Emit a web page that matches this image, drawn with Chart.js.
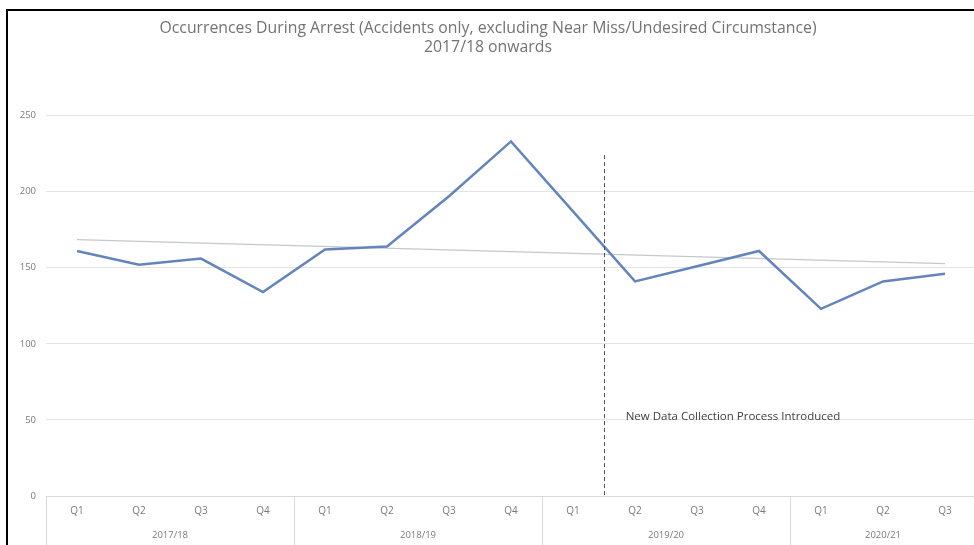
<!DOCTYPE html>
<html>
<head>
<meta charset="utf-8">
<script src="https://cdn.jsdelivr.net/npm/chart.js@4.4.1/dist/chart.umd.min.js"></script>
<style>
  html, body { margin: 0; padding: 0; background: #fff; overflow: hidden; }
  #wrap { position: relative; width: 976px; height: 545px; }
  #frame { position: absolute; left: 6px; top: 9px; right: 0; bottom: -10px;
           border-left: 2px solid #000; border-top: 2px solid #000; pointer-events: none; }
</style>
</head>
<body>
<div id="wrap">
  <canvas id="c" width="976" height="545"></canvas>
  <div id="frame"></div>
</div>
<script>
// Quarterly occurrences during arrest, grouped by financial year
const quarters = ['Q1','Q2','Q3','Q4','Q1','Q2','Q3','Q4','Q1','Q2','Q3','Q4','Q1','Q2','Q3'];
const years = ['2017/18','2018/19','2019/20','2020/21'];
const yearSizes = [4, 4, 4, 3];
const occurrences = [161, 152, 156, 134, 162, 164, 197, 233, 187, 141, 151, 161, 123, 141, 146];

// Linear trend line end values
const trendEnds = [168.5, 152.7];

// Process change marker (between 2019/20 Q1 and Q2)
const markerIndex = 8.5;
const markerTop = 224;
const markerText = 'New Data Collection Process Introduced';
const markerTextIndex = 8.85;
const markerTextValue = 52;

const yTicks = { min: 0, max: 250, step: 50 };

const trendData = quarters.map(() => null);
trendData[0] = trendEnds[0];
trendData[trendData.length - 1] = trendEnds[1];

const FONT = "'Open Sans', 'Noto Sans', sans-serif";

const groupAxis = {
  id: 'groupAxis',
  afterDraw(chart) {
    const ctx = chart.ctx;
    const x = chart.scales.x;
    const area = chart.chartArea;
    ctx.save();
    // separators between year groups
    ctx.strokeStyle = '#d9d9d9';
    ctx.lineWidth = 1;
    let start = 0;
    const bounds = [0];
    yearSizes.forEach(n => { start += n; bounds.push(start); });
    bounds.slice(0, -1).forEach(b => {
      const px = Math.round(x.getPixelForValue(b - 0.5)) + 0.5;
      ctx.beginPath();
      ctx.moveTo(px, area.bottom);
      ctx.lineTo(px, chart.height);
      ctx.stroke();
    });
    // year labels
    ctx.fillStyle = '#7a7a7a';
    ctx.font = '9.5px ' + FONT;
    ctx.textAlign = 'center';
    ctx.textBaseline = 'middle';
    years.forEach((yr, i) => {
      const a = x.getPixelForValue(bounds[i] - 0.5);
      const b = x.getPixelForValue(bounds[i + 1] - 0.5);
      ctx.fillText(yr, (a + b) / 2, 535);
    });
    ctx.restore();
  }
};

const marker = {
  id: 'marker',
  afterDatasetsDraw(chart) {
    const ctx = chart.ctx;
    const x = chart.scales.x, y = chart.scales.y;
    const px = Math.round(x.getPixelForValue(markerIndex)) + 0.5;
    ctx.save();
    ctx.strokeStyle = '#505050';
    ctx.lineWidth = 1;
    ctx.setLineDash([4, 3]);
    ctx.beginPath();
    ctx.moveTo(px, y.getPixelForValue(markerTop));
    ctx.lineTo(px, y.getPixelForValue(0));
    ctx.stroke();
    ctx.setLineDash([]);
    ctx.fillStyle = '#404040';
    ctx.font = '11.5px ' + FONT;
    ctx.textAlign = 'left';
    ctx.textBaseline = 'middle';
    ctx.fillText(markerText, x.getPixelForValue(markerTextIndex), y.getPixelForValue(markerTextValue));
    ctx.restore();
  }
};

new Chart(document.getElementById('c'), {
  type: 'line',
  data: {
    labels: quarters,
    datasets: [
      {
        label: 'Trend',
        data: trendData,
        spanGaps: true,
        borderColor: '#c3c8d0',
        borderWidth: 1.2,
        pointRadius: 0,
        tension: 0,
        order: 2
      },
      {
        label: 'Occurrences',
        data: occurrences,
        borderColor: '#6384bd',
        borderWidth: 2.5,
        pointRadius: 0,
        tension: 0,
        order: 1
      }
    ]
  },
  options: {
    responsive: false,
    animation: false,
    layout: { padding: { top: 8, left: 0, right: 0, bottom: 0 } },
    plugins: {
      legend: { display: false },
      tooltip: { enabled: false },
      title: {
        display: true,
        text: ['Occurrences During Arrest (Accidents only, excluding Near Miss/Undesired Circumstance)', '2017/18 onwards'],
        color: '#737373',
        font: { family: FONT, size: 15.8, weight: 'normal', lineHeight: 1.22 },
        padding: { top: 11, bottom: 58 }
      }
    },
    scales: {
      x: {
        offset: true,
        grid: { display: false, drawTicks: false },
        border: { display: true, color: '#d9d9d9', width: 1 },
        ticks: {
          color: '#7a7a7a',
          font: { family: FONT, size: 10 },
          padding: 9,
          maxRotation: 0,
          autoSkip: false
        },
        afterFit(scale) { scale.height = 49; }
      },
      y: {
        min: yTicks.min,
        max: yTicks.max,
        grid: { color: '#e3e3e3', drawTicks: false },
        border: { display: false },
        ticks: {
          stepSize: yTicks.step,
          color: '#7a7a7a',
          font: { family: FONT, size: 9.5 },
          padding: 10
        },
        afterFit(scale) { scale.width = 46; }
      }
    }
  },
  plugins: [groupAxis, marker]
});
</script>
</body>
</html>
